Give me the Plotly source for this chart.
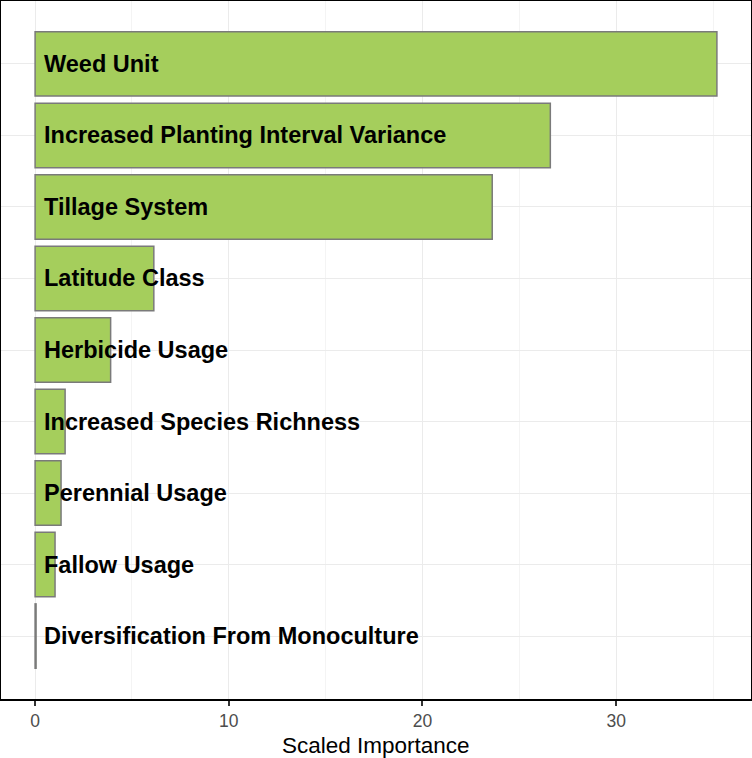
import plotly.graph_objects as go

categories = [
    "Weed Unit",
    "Increased Planting Interval Variance",
    "Tillage System",
    "Latitude Class",
    "Herbicide Usage",
    "Increased Species Richness",
    "Perennial Usage",
    "Fallow Usage",
    "Diversification From Monoculture",
]
importance = [35.2, 26.6, 23.6, 6.13, 3.9, 1.55, 1.34, 1.03, 0.05]
x_ticks = [0, 10, 20, 30]
x_title = "Scaled Importance"

order = categories[::-1]

fig = go.Figure()
fig.add_trace(go.Bar(
    y=categories,
    x=importance,
    orientation="h",
    width=0.9,
    marker=dict(color="#A5CE5C", line=dict(color="#7a7a7a", width=1.5)),
    hoverinfo="x+y",
))

for c in categories:
    fig.add_annotation(
        x=0.38, y=c, xref="x", yref="y",
        text="<b>" + c + "</b>",
        showarrow=False, xanchor="left", yanchor="middle",
        font=dict(family="Liberation Sans, Arial", size=23.5, color="black"),
    )

fig.add_annotation(
    x=0.5, y=-0.066, xref="paper", yref="paper",
    text=x_title, showarrow=False, xanchor="center", yanchor="middle",
    font=dict(family="Liberation Sans, Arial", size=22.5, color="black"),
)

fig.update_layout(
    width=752, height=758,
    margin=dict(l=1, r=1, t=1, b=59),
    paper_bgcolor="white", plot_bgcolor="white",
    showlegend=False,
    font=dict(family="Liberation Sans, Arial"),
    bargap=0.1,
)
fig.update_xaxes(
    range=[-1.76, 36.96],
    tickvals=x_ticks,
    ticks="outside", ticklen=5, tickwidth=1.5, tickcolor="#333333",
    tickfont=dict(size=17.5, color="#4d4d4d"),
    showgrid=True, gridcolor="#ebebeb", gridwidth=1.2,
    minor=dict(dtick=5, tick0=0, showgrid=True, gridcolor="#f4f4f4", gridwidth=1),
    zeroline=False, automargin=False,
    showline=True, mirror=True, linecolor="black", linewidth=2,
)
fig.update_yaxes(
    categoryorder="array", categoryarray=order,
    range=[-0.88, 8.88],
    showticklabels=False, ticks="",
    showgrid=True, gridcolor="#ebebeb", gridwidth=1.2,
    zeroline=False, automargin=False,
    showline=True, mirror=True, linecolor="black", linewidth=2,
)

fig.write_html(
    "out.html",
    config={"displayModeBar": False},
    post_script="document.body.style.margin='0';document.body.style.overflow='hidden';",
)
